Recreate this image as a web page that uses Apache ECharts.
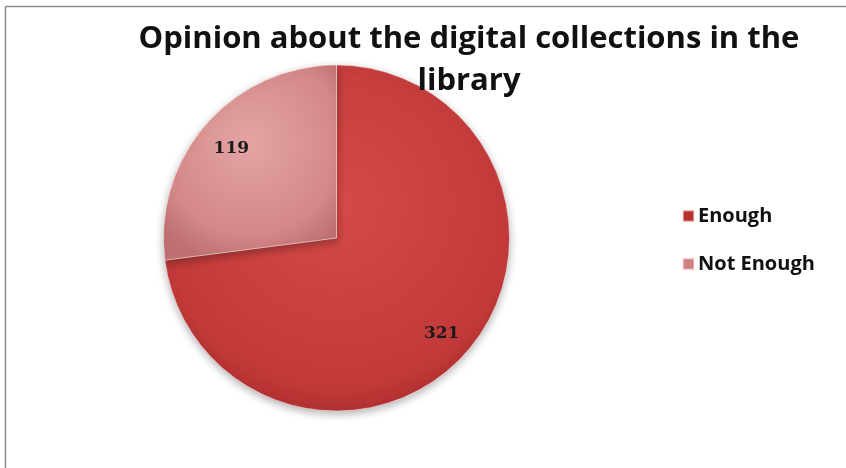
<!DOCTYPE html>
<html>
<head>
<meta charset="utf-8">
<script src="https://cdn.jsdelivr.net/npm/echarts@6/dist/echarts.min.js"></script>
<style>
html,body{margin:0;padding:0;background:#fff;}
#frame{position:absolute;left:0;top:0;width:846px;height:468px;}
#chart{width:846px;height:468px;}
</style>
</head>
<body>
<div id="frame"><div id="chart"></div></div>
<script>
var titleText = 'Opinion about the digital collections in the\nlibrary';
var categories = ['Enough', 'Not Enough'];
var values = [321, 119];

var colors = [
  {type:'radial', x:0.5, y:0.4, r:0.7, colorStops:[{offset:0,color:'#d44a48'},{offset:0.75,color:'#c13a39'},{offset:1,color:'#9e2626'}]},
  {type:'radial', x:0.5, y:0.4, r:0.7, colorStops:[{offset:0,color:'#e4a4a4'},{offset:0.75,color:'#d48888'},{offset:1,color:'#c07070'}]}
];
var legendColors = ['#b8302f', '#cf8080'];

var pieData = categories.map(function(c,i){
  return {name:c, value:values[i], itemStyle:{color:colors[i]}};
});
var labelData = categories.map(function(c,i){
  return {name:c, value:values[i]};
});

var chart = echarts.init(document.getElementById('chart'), null, {renderer:'canvas'});
chart.setOption({
  animation:false,
  backgroundColor:'#ffffff',
  graphic:[
    {type:'line', shape:{x1:5.5,y1:6.5,x2:846,y2:6.5}, style:{stroke:'#8a8a8a', lineWidth:1.5}},
    {type:'line', shape:{x1:5.5,y1:6.5,x2:5.5,y2:468}, style:{stroke:'#8a8a8a', lineWidth:1.5}}
  ],
  title:{
    text:titleText,
    left:464, top:13, textAlign:'center',
    textStyle:{fontFamily:'Open Sans, sans-serif', fontWeight:'bold', fontSize:31, color:'#111', lineHeight:42}
  },
  legend:{
    orient:'vertical',
    left:677, top:201,
    itemWidth:11, itemHeight:11, itemGap:28,
    icon:'rect',
    data:categories.map(function(c,i){return {name:c, itemStyle:{color:legendColors[i]}};}),
    textStyle:{fontFamily:'Open Sans, sans-serif', fontWeight:'bold', fontSize:20, color:'#111', padding:[0,0,0,-1]}
  },
  series:[
    {
      type:'pie',
      center:[336.5,238],
      radius:[0,173],
      startAngle:90,
      clockwise:true,
      label:{show:false},
      labelLine:{show:false},
      itemStyle:{borderColor:'rgba(255,230,230,0.5)', borderWidth:1, shadowBlur:8, shadowOffsetY:3, shadowColor:'rgba(0,0,0,0.3)'},
      emphasis:{disabled:true},
      data:pieData,
      z:2
    },
    {
      type:'pie',
      center:[336.5,241],
      radius:[101,173],
      startAngle:90,
      clockwise:true,
      silent:true,
      legendHoverLink:false,
      itemStyle:{color:'rgba(0,0,0,0)'},
      label:{show:true, position:'inside', formatter:'{c}', fontFamily:'DejaVu Serif, serif', fontWeight:'bold', fontSize:17, color:'#1a1a1a'},
      labelLine:{show:false},
      emphasis:{disabled:true},
      data:labelData,
      z:3
    }
  ]
});
</script>
</body>
</html>
